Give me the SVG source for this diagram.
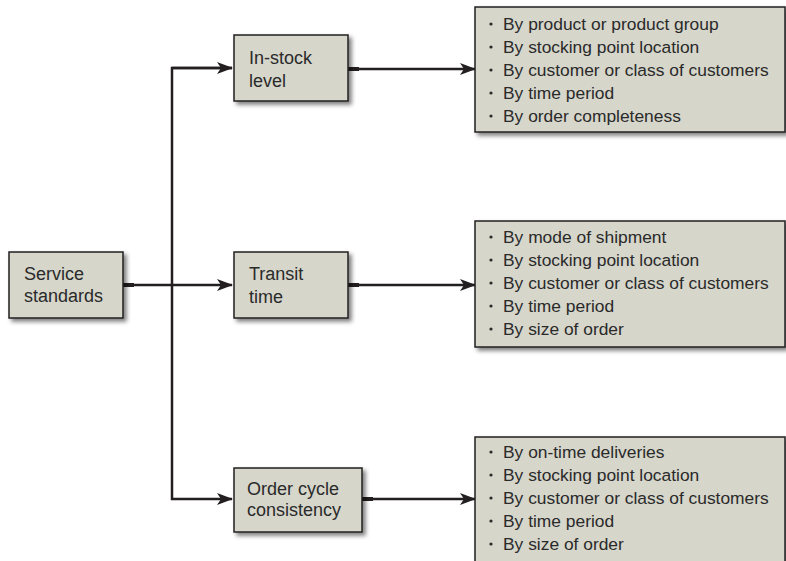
<svg xmlns="http://www.w3.org/2000/svg" width="786" height="561" viewBox="0 0 786 561">
  <style>
    .box { fill: #d6d6cb; stroke: #231f20; stroke-width: 1.5; filter: url(#shadow); }
    .lbl { font-family: "Liberation Sans", Arial, sans-serif; font-size: 18px; fill: #2a2a2a; }
    .item { font-family: "Liberation Sans", Arial, sans-serif; font-size: 17.4px; fill: #2a2a2a; }
    .dot { fill: #2a2a2a; }
    .wire { fill: none; stroke: #231f20; stroke-width: 2.5; }
    .stub { fill: #231f20; }
  </style>
  <defs>
    <filter id="shadow" x="-10%" y="-10%" width="130%" height="140%">
      <feDropShadow dx="3" dy="3" stdDeviation="2" flood-color="#000" flood-opacity="0.5"/>
    </filter>
    <marker id="arrow" viewBox="0 0 16 12" refX="15" refY="6" markerWidth="16" markerHeight="12" markerUnits="userSpaceOnUse" orient="auto">
      <path d="M0,0 L16,6 L0,12 L4,6 z" fill="#231f20"/>
    </marker>
  </defs>

  <rect width="786" height="561" fill="#ffffff"/>

  <!-- connectors -->
  <g id="connectors">
    <path class="wire" d="M123,285 H232" marker-end="url(#arrow)"/>
    <path class="wire" d="M232,68 H172 V499 H232" marker-end="url(#arrow)"/>
    <path class="wire" d="M172,68 H232" marker-end="url(#arrow)"/>
    <path class="wire" d="M348,69 H475" marker-end="url(#arrow)"/>
    <path class="wire" d="M348,285 H475" marker-end="url(#arrow)"/>
    <path class="wire" d="M362,499 H475" marker-end="url(#arrow)"/>
    <rect class="stub" x="123" y="283" width="11" height="4"/>
    <rect class="stub" x="348" y="67" width="11" height="4"/>
    <rect class="stub" x="348" y="283" width="11" height="4"/>
    <rect class="stub" x="362" y="497" width="11" height="4"/>
  </g>

  <!-- root node -->
  <g id="service-standards">
    <rect class="box" x="9" y="252" width="114" height="66"/>
    <text class="lbl" x="24" y="280">Service</text>
    <text class="lbl" x="24" y="302">standards</text>
  </g>

  <!-- measures -->
  <g id="in-stock-level">
    <rect class="box" x="234" y="35" width="114" height="66"/>
    <text class="lbl" x="249" y="64">In-stock</text>
    <text class="lbl" x="249" y="87">level</text>
  </g>

  <g id="transit-time">
    <rect class="box" x="234" y="252" width="114" height="66"/>
    <text class="lbl" x="249" y="280">Transit</text>
    <text class="lbl" x="249" y="303">time</text>
  </g>

  <g id="order-cycle-consistency">
    <rect class="box" x="234" y="468" width="128" height="64"/>
    <text class="lbl" x="247" y="495" font-size="18.5">Order cycle</text>
    <text class="lbl" x="247" y="516" font-size="18.5">consistency</text>
  </g>

  <!-- breakdown lists -->
  <g id="in-stock-breakdown">
    <rect class="box" x="475" y="7" width="310" height="125"/>
    <circle class="dot" cx="491" cy="24" r="1.6"/>
    <circle class="dot" cx="491" cy="47" r="1.6"/>
    <circle class="dot" cx="491" cy="70" r="1.6"/>
    <circle class="dot" cx="491" cy="93" r="1.6"/>
    <circle class="dot" cx="491" cy="116" r="1.6"/>
    <text class="item" x="503" y="30">By product or product group</text>
    <text class="item" x="503" y="53">By stocking point location</text>
    <text class="item" x="503" y="76">By customer or class of customers</text>
    <text class="item" x="503" y="99">By time period</text>
    <text class="item" x="503" y="122">By order completeness</text>
  </g>

  <g id="transit-breakdown">
    <rect class="box" x="475" y="221" width="310" height="126"/>
    <circle class="dot" cx="491" cy="237" r="1.6"/>
    <circle class="dot" cx="491" cy="260" r="1.6"/>
    <circle class="dot" cx="491" cy="283" r="1.6"/>
    <circle class="dot" cx="491" cy="306" r="1.6"/>
    <circle class="dot" cx="491" cy="329" r="1.6"/>
    <text class="item" x="503" y="243">By mode of shipment</text>
    <text class="item" x="503" y="266">By stocking point location</text>
    <text class="item" x="503" y="289">By customer or class of customers</text>
    <text class="item" x="503" y="312">By time period</text>
    <text class="item" x="503" y="335">By size of order</text>
  </g>

  <g id="order-cycle-breakdown">
    <rect class="box" x="475" y="437" width="310" height="140"/>
    <circle class="dot" cx="491" cy="452" r="1.6"/>
    <circle class="dot" cx="491" cy="475" r="1.6"/>
    <circle class="dot" cx="491" cy="498" r="1.6"/>
    <circle class="dot" cx="491" cy="521" r="1.6"/>
    <circle class="dot" cx="491" cy="544" r="1.6"/>
    <text class="item" x="503" y="458">By on-time deliveries</text>
    <text class="item" x="503" y="481">By stocking point location</text>
    <text class="item" x="503" y="504">By customer or class of customers</text>
    <text class="item" x="503" y="527">By time period</text>
    <text class="item" x="503" y="550">By size of order</text>
  </g>
</svg>
